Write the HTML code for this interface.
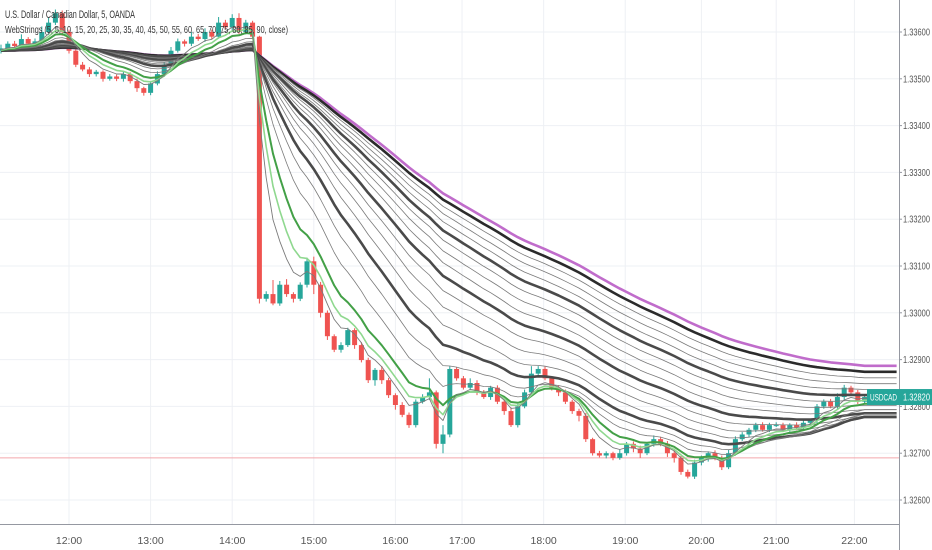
<!DOCTYPE html>
<html><head><meta charset="utf-8">
<style>
html,body{margin:0;padding:0;background:#fff;}
#wrap{position:relative;width:932px;height:550px;overflow:hidden;font-family:"Liberation Sans",sans-serif;}
svg text{font-family:"Liberation Sans",sans-serif;}
</style></head>
<body>
<div id="wrap">
<svg id="chart" width="932" height="550"></svg>
</div>
<script>
const closes=[1.33565,1.33575,1.33570,1.33585,1.33575,1.33580,1.33600,1.33620,1.33640,1.33600,1.33560,
1.33530,1.33520,1.33510,1.33515,1.33500,1.33505,1.33500,1.33510,1.33495,1.33480,1.33470,1.33490,
1.33510,1.33530,1.33560,1.33580,1.33575,1.33590,1.33585,1.33600,1.33590,1.33620,1.33610,1.33630,1.33600,1.33620,
1.33590,1.33030,
1.33040,1.33020,1.33060,1.33040,1.33030,1.33060,1.33110,1.33060,1.33000,1.32950,
1.32921,1.32931,1.32963,1.32931,1.32899,1.32856,1.32878,1.32856,1.32824,1.32803,1.32782,1.32760,
1.32810,1.32820,1.32830,1.32720,1.32740,1.32880,
1.32860,1.32840,1.32850,1.32830,1.32820,1.32840,1.32810,1.32790,1.32760,1.32800,1.32830,1.32870,1.32880,1.32860,1.32840,
1.32830,1.32810,1.32790,1.32780,1.32730,1.32700,1.32695,1.32700,1.32690,1.32700,1.32720,1.32710,1.32700,1.32720,
1.32730,1.32720,1.32700,1.32690,1.32660,1.32650,1.32680,1.32690,1.32700,
1.32690,1.32670,1.32700,1.32730,1.32740,1.32750,1.32760,1.32750,1.32760,
1.32760,1.32750,1.32760,1.32755,1.32765,1.32770,1.32800,1.32810,1.32800,1.32820,1.32840,1.32830,1.32810,1.32820];
const wickHi=[8,5,6,10,4,6,12,10,8,6,5,4,6,5,4,3,5,4,6,4,5,3,4,6,5,8,6,4,10,6,8,5,12,6,8,10,6,4,2,6,30,8,12,4,5,8,10,6,5,4,6,5,4,6,5,4,8,5,4,6,5,5,6,30,4,20,6,4,5,10,6,5,4,5,4,8,5,6,16,6,5,4,5,6,4,5,6,3,5,4,3,8,4,5,6,4,8,5,6,5,4,5,6,5,4,6,5,8,6,5,4,5,6,5,6,5,4,6,5,4,5,5,6,8,6,4,5,4];
const wickLo=[6,5,4,5,6,5,4,6,5,8,6,5,4,6,5,6,4,5,6,5,8,6,5,4,6,5,4,6,5,4,6,5,4,5,6,4,5,5,10,6,4,5,6,8,5,6,20,10,8,5,6,4,8,5,6,12,8,6,10,5,6,5,4,6,10,20,6,5,4,5,6,4,6,5,8,4,5,4,6,5,4,6,8,5,6,12,6,5,4,6,5,4,5,8,10,4,6,5,8,10,6,4,5,6,8,5,6,4,5,4,6,5,4,5,4,5,4,6,5,4,6,5,4,5,6,4,5,4];
const emaPeriods=[5,7,10,15,20,25,30,35,40,45,50,55,60,65,70,75,80,85,90];
const emaSeed=1.33560;
const priceTicks=[1.336,1.335,1.334,1.333,1.332,1.331,1.330,1.329,1.328,1.327,1.326];
const timeLabels=["12:00","13:00","14:00","15:00","16:00","17:00","18:00","19:00","20:00","21:00","22:00"];
const timeIndex=[10,22,34,46,58,67.8,79.8,91.8,103,114,125.5];
const lastPrice=1.32820, alertPrice=1.32690;

const NS="http://www.w3.org/2000/svg", svg=document.getElementById('chart');
const yS=p=>32+(1.336-p)/0.001*46.8;
const xS=i=>1+i*6.8;
function mk(t,a,parent){const e=document.createElementNS(NS,t);for(const k in a)e.setAttribute(k,a[k]);(parent||svg).appendChild(e);return e;}

const grid=mk('g',{});


priceTicks.forEach(p=>mk('line',{x1:0,x2:899,y1:yS(p),y2:yS(p),stroke:'#eef0f4','stroke-width':1},grid));
timeIndex.forEach(i=>mk('line',{x1:xS(i),x2:xS(i),y1:0,y2:524,stroke:'#eef0f4','stroke-width':1},grid));

const al=mk('line',{x1:0,x2:899,y1:yS(alertPrice),y2:yS(alertPrice),stroke:'#f3a6ac','stroke-width':1});



const cg=mk('g',{});


closes.forEach((c,i)=>{
  const o=i===0?c-0.00005:closes[i-1];
  const up=c>=o, col=up?'#26a69a':'#ef5350';
  const hi=Math.max(o,c)+wickHi[i]*0.00001, lo=Math.min(o,c)-wickLo[i]*0.00001;
  const x=xS(i);
  const w=mk('line',{x1:x,x2:x,y1:yS(hi),y2:yS(lo),stroke:col,'stroke-width':1},cg);
  
  
  const t=yS(Math.max(o,c)), b=yS(Math.min(o,c));
  const r=mk('rect',{x:x-2.5,y:t,width:5,height:Math.max(1,b-t),fill:col},cg);
  
  
});

const eg=mk('g',{fill:'none'});


const styles={5:['#7a7a7a',0.9],7:['#8fd88f',1.6],10:['#43a047',2],25:['#4a4a4a',2.6],45:['#4a4a4a',2.6],65:['#4a4a4a',2.6],85:['#2b2b2b',2.6],90:['#c06ccb',2.6]};
emaPeriods.slice().reverse().forEach(n=>{
  const k=2/(n+1); let e=emaSeed; const pts=[];
  closes.forEach((c,i)=>{e=e+(c-e)*k;pts.push(xS(i).toFixed(1)+','+yS(e).toFixed(1));});
  const last=pts[pts.length-1].split(',');
  pts.push((+last[0]+32)+','+last[1]);
  const st=styles[n]||['#7a7a7a',0.8];
  const pl=mk('polyline',{points:pts.join(' '),stroke:st[0],'stroke-width':st[1],'stroke-linejoin':'round'},eg);
  
  
});

const ax=mk('g',{});


mk('rect',{x:899,y:0,width:33,height:550,fill:'#fff'},ax);
mk('line',{x1:899.5,x2:899.5,y1:0,y2:550,stroke:'#9598a1','stroke-width':1},ax);
priceTicks.forEach(p=>{
  mk('line',{x1:899,x2:902,y1:yS(p),y2:yS(p),stroke:'#9598a1'},ax);
  const t=mk('text',{x:903,y:yS(p)+3.5,'font-size':10,fill:'#555',textLength:27,lengthAdjust:'spacingAndGlyphs'},ax);
  t.textContent=p.toFixed(5);
  
  
});
const tx=mk('g',{});


mk('rect',{x:0,y:524,width:899,height:26,fill:'#fff'},tx);
mk('line',{x1:0,x2:899,y1:524.5,y2:524.5,stroke:'#9598a1'},tx);
timeLabels.forEach((l,j)=>{
  const t=mk('text',{x:xS(timeIndex[j]),y:544,'font-size':10.5,fill:'#555','text-anchor':'middle'},tx);
  t.textContent=l;
  
  
});

const lp=mk('g',{});


mk('rect',{x:867,y:yS(lastPrice)-8,width:65,height:16,fill:'#26a69a'},lp);
const s1=mk('text',{x:870,y:yS(lastPrice)+3.5,'font-size':9.5,fill:'#fff',textLength:27,lengthAdjust:'spacingAndGlyphs'},lp);s1.textContent='USDCAD';
const s2=mk('text',{x:903,y:yS(lastPrice)+3.5,'font-size':10,fill:'#fff',textLength:27,lengthAdjust:'spacingAndGlyphs'},lp);s2.textContent=lastPrice.toFixed(5);

const lg=mk('g',{});


const l1=mk('text',{x:5,y:18,'font-size':11,fill:'#333',textLength:130,lengthAdjust:'spacingAndGlyphs'},lg);l1.textContent='U.S. Dollar / Canadian Dollar, 5, OANDA';


const l2=mk('text',{x:5,y:33,'font-size':10.5,fill:'#333',textLength:283,lengthAdjust:'spacingAndGlyphs'},lg);l2.textContent='WebStrings (5, 5, 10, 15, 20, 25, 30, 35, 40, 45, 50, 55, 60, 65, 70, 75, 80, 85, 90, close)';


</script>
</body></html>
